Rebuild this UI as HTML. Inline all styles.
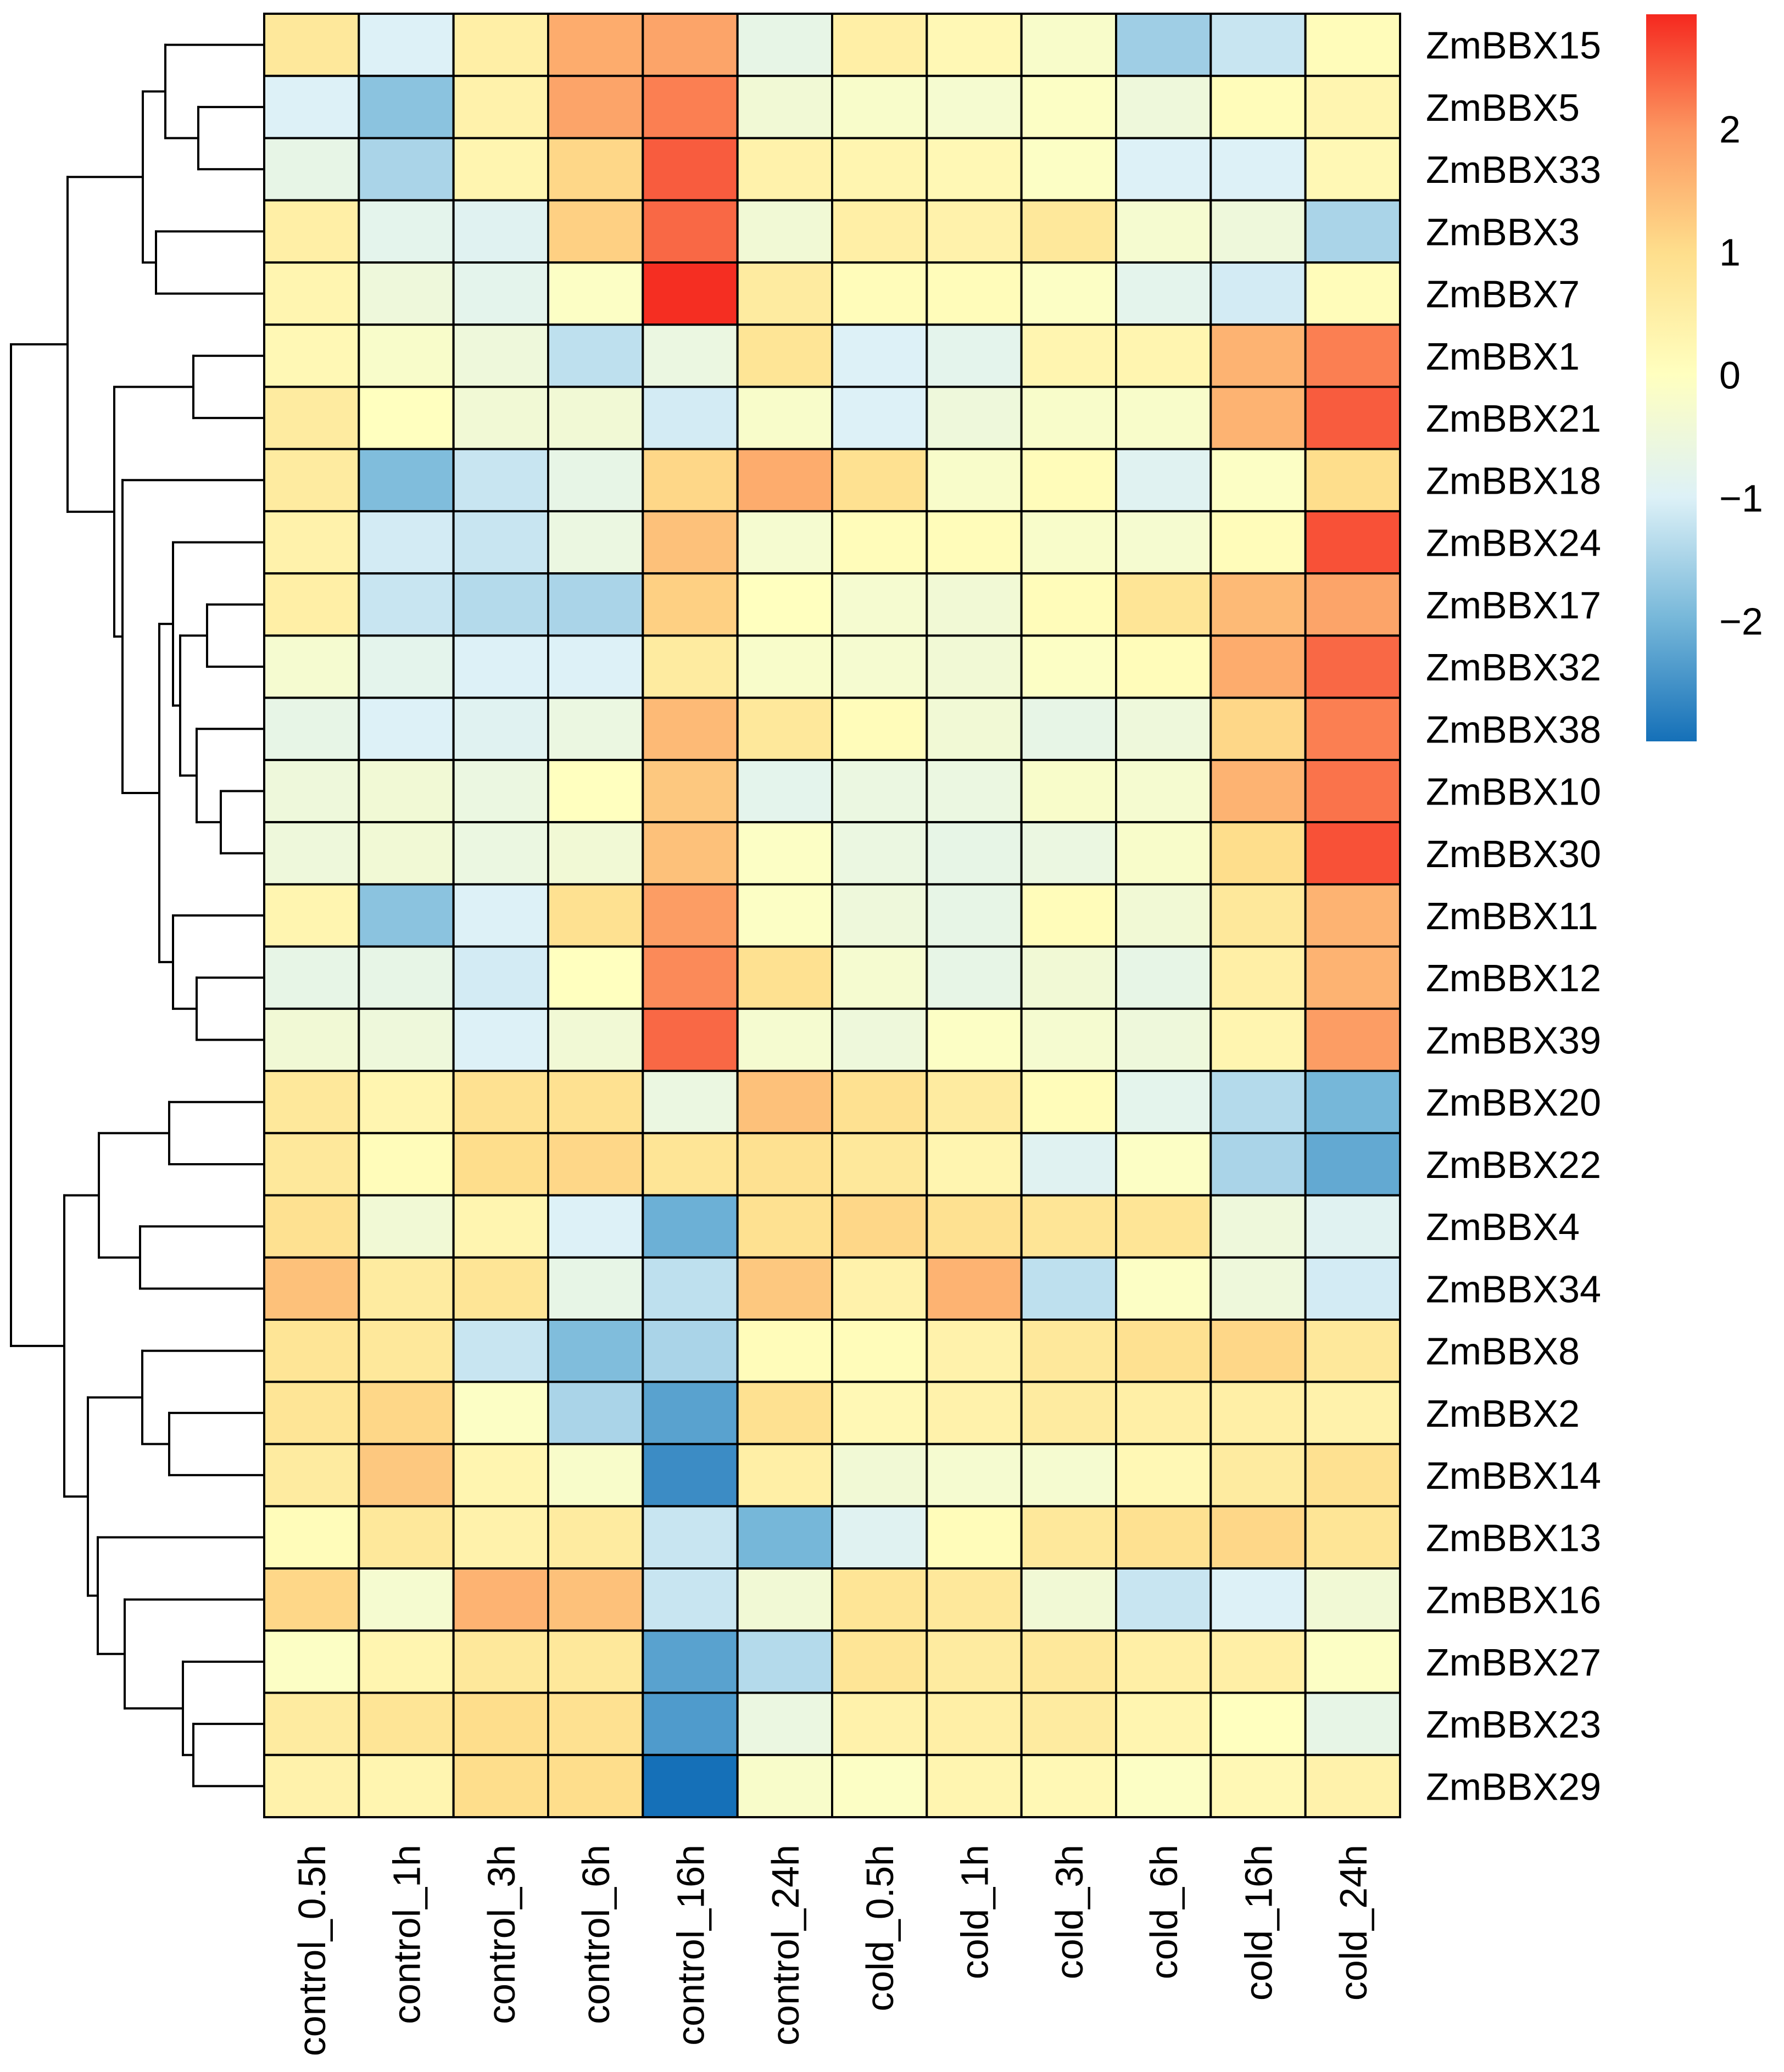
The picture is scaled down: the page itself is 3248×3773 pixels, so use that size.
<!DOCTYPE html>
<html><head><meta charset="utf-8">
<style>
html,body{margin:0;padding:0;background:#fff;}
svg{display:block;}
text{font-family:"Liberation Sans",Arial,sans-serif;fill:#000;}
</style></head>
<body>
<svg id="chart" width="3248" height="3773" viewBox="0 0 3248 3773" xmlns="http://www.w3.org/2000/svg">
<defs>
<linearGradient id="cbgrad" x1="0" y1="1" x2="0" y2="0">
<stop offset="0" stop-color="#1570B8"/>
<stop offset="0.168" stop-color="#76B7D9"/>
<stop offset="0.336" stop-color="#DDF1F7"/>
<stop offset="0.505" stop-color="#FFFFBF"/>
<stop offset="0.673" stop-color="#FEDE8C"/>
<stop offset="0.841" stop-color="#FC9660"/>
<stop offset="1" stop-color="#F5281F"/>
</linearGradient>
</defs>
<g id="dendro"></g>
<g id="cells"></g>
<g id="rowlabels"></g>
<g id="collabels"></g>
<g id="legend"></g>
</svg>
<script>
const rowNames = ["ZmBBX15","ZmBBX5","ZmBBX33","ZmBBX3","ZmBBX7","ZmBBX1","ZmBBX21","ZmBBX18","ZmBBX24","ZmBBX17","ZmBBX32","ZmBBX38","ZmBBX10","ZmBBX30","ZmBBX11","ZmBBX12","ZmBBX39","ZmBBX20","ZmBBX22","ZmBBX4","ZmBBX34","ZmBBX8","ZmBBX2","ZmBBX14","ZmBBX13","ZmBBX16","ZmBBX27","ZmBBX23","ZmBBX29"];
const colNames = ["control_0.5h","control_1h","control_3h","control_6h","control_16h","control_24h","cold_0.5h","cold_1h","cold_3h","cold_6h","cold_16h","cold_24h"];
const legendTicks = [2,1,0,-1,-2];
const legendTickLabels = ["2","1","0","\u22121","\u22122"];
const values = [
[0.7,-1.0,0.5,1.7,1.8,-0.7,0.5,0.2,-0.2,-1.6,-1.2,0.1],
[-1.0,-1.8,0.4,1.8,2.2,-0.4,-0.2,-0.3,-0.1,-0.5,0.1,0.3],
[-0.7,-1.5,0.3,1.1,2.5,0.4,0.3,0.2,-0.1,-1.0,-1.0,0.2],
[0.5,-0.8,-0.9,1.2,2.4,-0.4,0.5,0.4,0.7,-0.3,-0.5,-1.5],
[0.3,-0.5,-0.8,-0.1,2.9,0.6,0.1,0.1,-0.1,-0.8,-1.1,0.1],
[0.2,-0.2,-0.5,-1.3,-0.6,0.8,-1.0,-0.8,0.3,0.3,1.6,2.2],
[0.6,0.0,-0.4,-0.4,-1.1,-0.2,-1.0,-0.5,-0.2,-0.2,1.6,2.5],
[0.6,-1.9,-1.2,-0.7,1.1,1.7,0.9,-0.2,0.1,-0.9,-0.1,1.0],
[0.4,-1.1,-1.2,-0.6,1.4,-0.3,0.1,0.1,-0.2,-0.3,0.1,2.6],
[0.5,-1.2,-1.4,-1.5,1.2,0.0,-0.3,-0.4,0.1,0.8,1.5,1.8],
[-0.3,-0.8,-1.0,-1.0,0.6,-0.2,-0.3,-0.4,-0.1,0.1,1.7,2.4],
[-0.7,-1.0,-0.9,-0.6,1.5,0.7,0.1,-0.4,-0.7,-0.5,1.1,2.2],
[-0.5,-0.4,-0.6,0.0,1.3,-0.8,-0.6,-0.6,-0.2,-0.3,1.6,2.3],
[-0.5,-0.4,-0.6,-0.4,1.4,-0.1,-0.6,-0.7,-0.6,-0.2,1.0,2.6],
[0.3,-1.8,-1.0,0.9,1.9,-0.1,-0.5,-0.7,0.1,-0.4,0.7,1.6],
[-0.7,-0.7,-1.1,0.0,2.1,0.9,-0.3,-0.7,-0.4,-0.7,0.5,1.6],
[-0.4,-0.5,-1.0,-0.4,2.4,-0.3,-0.5,-0.1,-0.3,-0.5,0.3,1.9],
[0.7,0.3,0.9,0.9,-0.6,1.4,0.9,0.6,0.1,-0.8,-1.4,-2.0],
[0.7,0.1,1.0,1.1,0.8,0.9,0.7,0.3,-0.9,-0.1,-1.5,-2.2],
[0.9,-0.4,0.3,-1.0,-2.1,0.9,1.1,0.9,0.8,0.8,-0.5,-0.9],
[1.4,0.6,0.8,-0.7,-1.3,1.3,0.4,1.6,-1.3,-0.1,-0.5,-1.1],
[0.8,0.7,-1.2,-1.9,-1.5,0.1,0.1,0.4,0.7,0.9,1.1,0.7],
[0.8,1.1,-0.1,-1.5,-2.3,0.9,0.2,0.4,0.6,0.5,0.5,0.4],
[0.6,1.3,0.3,-0.2,-2.6,0.5,-0.4,-0.3,-0.3,0.2,0.6,0.9],
[0.1,0.7,0.4,0.6,-1.2,-2.0,-0.9,0.1,0.7,0.9,1.1,0.8],
[1.1,-0.3,1.6,1.4,-1.2,-0.4,0.8,0.7,-0.4,-1.2,-1.0,-0.4],
[-0.1,0.3,0.7,0.7,-2.3,-1.4,0.8,0.6,0.7,0.5,0.5,-0.1],
[0.6,0.8,1.0,0.9,-2.4,-0.6,0.4,0.5,0.6,0.3,0.0,-0.7],
[0.4,0.3,1.0,1.0,-3.0,-0.2,-0.1,0.3,0.2,-0.1,0.2,0.4]
];
// dendrogram merges: [left, right, height] (height = pixel x of join)
const tree = [
 [
  [[0,[1,2,361],301],[3,4,284],260],
  [[5,6,352],[7,[[8,[[9,10,377],[11,[12,13,402],358],328],315],[14,[15,16,358],315],290],223],208],
  123],
 [
  [[17,18,308],[19,20,255],180],
  [[21,[22,23,308],259],[24,[25,[26,[27,28,352],333],227],178],160],
  117],
 20];

const NS="http://www.w3.org/2000/svg";
const X0=481, X1=2549, Y0=25, Y1=3309;
const cw=(X1-X0)/colNames.length, rh=(Y1-Y0)/rowNames.length;
const vmin=-2.98, vmax=2.93;
const stops=[[-3,[21,112,184]],[-2,[118,183,217]],[-1,[221,241,247]],[0,[255,255,191]],[1,[254,222,140]],[2,[252,150,96]],[2.95,[245,40,31]]];
function colorOf(v){
  if(v<=stops[0][0]) return 'rgb('+stops[0][1].join(',')+')';
  for(let i=0;i<stops.length-1;i++){
    const a=stops[i],b=stops[i+1];
    if(v<=b[0]){const t=(v-a[0])/(b[0]-a[0]);
      return 'rgb('+a[1].map((c,k)=>Math.round(c+(b[1][k]-c)*t)).join(',')+')';}
  }
  return 'rgb('+stops[stops.length-1][1].join(',')+')';
}
function xCol(j){return X0+j*cw;}
function yRow(i){return Y0+i*rh;}
function mk(tag,attrs,parent){const e=document.createElementNS(NS,tag);for(const k in attrs)e.setAttribute(k,attrs[k]);parent.appendChild(e);return e;}

const cells=document.getElementById('cells');
values.forEach((row,i)=>row.forEach((v,j)=>{
  const r=mk('rect',{x:xCol(j),y:yRow(i),width:cw,height:rh,fill:colorOf(v),stroke:'#000','stroke-width':4},cells);
  
  
}));

const rl=document.getElementById('rowlabels');
rowNames.forEach((n,i)=>{
  const t=mk('text',{x:2596,y:yRow(i)+rh/2+25,'font-size':70},rl);
  t.textContent=n;
  
  
});
const cl=document.getElementById('collabels');
colNames.forEach((n,j)=>{
  const cx=xCol(j)+cw/2+25, cy=3359;
  const t=mk('text',{x:cx,y:cy,'font-size':70,'text-anchor':'end',transform:'rotate(-90 '+cx+' '+cy+')'},cl);
  t.textContent=n;
  
  
});

// legend
const lg=document.getElementById('legend');
const LB0=26, LB1=1350;
function yLeg(v){return LB1-(v-vmin)/(vmax-vmin)*(LB1-LB0);}
const bar=mk('rect',{x:2997,y:LB0,width:92,height:LB1-LB0,fill:'url(#cbgrad)'},lg);


legendTicks.forEach((v,k)=>{
  const t=mk('text',{x:3130,y:yLeg(v)+25,'font-size':70},lg);
  t.textContent=legendTickLabels[k];
  
  
});

// dendrogram
const dg=document.getElementById('dendro');
function line(x1,y1,x2,y2){
  const l=mk('line',{x1:x1,y1:y1,x2:x2,y2:y2,stroke:'#000','stroke-width':4,'stroke-linecap':'square'},dg);
  
  
}
function draw(node){
  if(typeof node==='number') return {x:X0,y:yRow(node)+rh/2};
  const a=draw(node[0]), b=draw(node[1]), h=node[2];
  line(a.x,a.y,h,a.y); line(b.x,b.y,h,b.y); line(h,a.y,h,b.y);
  return {x:h,y:(a.y+b.y)/2};
}
draw(tree);
</script>
</body></html>
